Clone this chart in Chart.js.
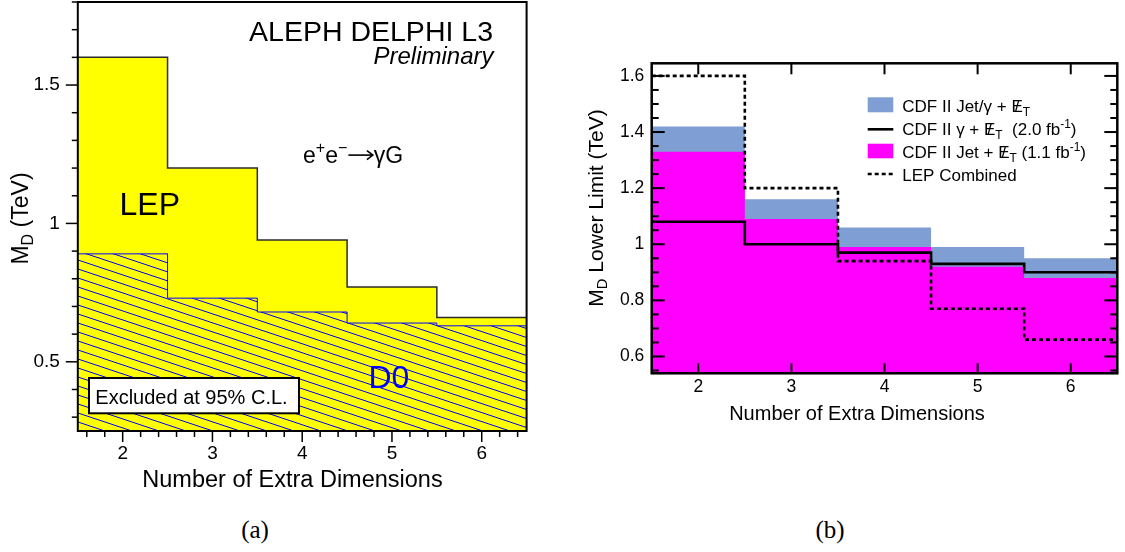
<!DOCTYPE html>
<html>
<head>
<meta charset="utf-8">
<script src="https://cdn.jsdelivr.net/npm/chart.js@4.4.0/dist/chart.umd.min.js"></script>
<style>
  body { margin: 0; background: #fff; width: 1125px; height: 552px; position: relative; overflow: hidden; }
  .panel { position: absolute; top: 0; }
  .cap { position: absolute; font-family: "Liberation Serif", serif; font-size: 25px; transform: translate(-50%, -50%); }
</style>
</head>
<body>
<canvas id="lep" class="panel" style="left:0" width="560" height="500"></canvas>
<canvas id="cdf" class="panel" style="left:560px" width="565" height="500"></canvas>
<div class="cap" style="left:255px;top:530px">(a)</div>
<div class="cap" style="left:830px;top:530px">(b)</div>
<script>
// number of extra dimensions (bin centres)
const dims = [2, 3, 4, 5, 6];
const xTicks = [2, 3, 4, 5, 6];

// (a) LEP and D0 limits on M_D (TeV)
const lepLimit = [1.6, 1.2, 0.94, 0.77, 0.66];
const d0Limit = [0.89, 0.73, 0.68, 0.64, 0.63];
const yTicksA = [0.5, 1, 1.5];

// (b) CDF limits vs LEP
const cdfCombined = [1.42, 1.16, 1.06, 0.99, 0.95];
const cdfJet = [1.33, 1.09, 0.99, 0.92, 0.88];
const cdfPhoton = [1.08, 1.0, 0.97, 0.93, 0.90];
const lepCombined = [1.6, 1.2, 0.94, 0.77, 0.66];
const yTicksB = [0.6, 0.8, 1, 1.2, 1.4, 1.6];

const FONT = '"Liberation Sans", Arial, Helvetica, sans-serif';

// histogram bins -> a point on each left edge, plus the last right edge
function steps(vals) {
  const pts = dims.map((d, i) => ({ x: d - 0.5, y: vals[i] }));
  pts.push({ x: dims[dims.length - 1] + 0.5, y: vals[vals.length - 1] });
  return pts;
}

// yellow with thin blue diagonal hatching
function hatch() {
  const c = document.createElement('canvas');
  c.width = 27; c.height = 9;
  const g = c.getContext('2d');
  g.fillStyle = '#ffff00';
  g.fillRect(0, 0, 27, 9);
  g.strokeStyle = '#0000ff';
  g.lineWidth = 1;
  [-9, 0, 9].forEach(o => { g.beginPath(); g.moveTo(0, o); g.lineTo(27, o + 9); g.stroke(); });
  return g.createPattern(c, 'repeat');
}

function seg(ctx, x1, y1, x2, y2) {
  ctx.beginPath(); ctx.moveTo(x1, y1); ctx.lineTo(x2, y2); ctx.stroke();
}

// text with sup / sub / slashed letters / arrow, drawn left to right
function rich(ctx, x, y, parts, size, draw = true) {
  let cx = x;
  ctx.textAlign = 'left';
  for (const [t, m] of parts) {
    if (m === 'arrow') {
      const w = size * 1.15, ay = y - size * 0.33;
      if (draw) {
        ctx.save();
        ctx.strokeStyle = ctx.fillStyle;
        ctx.lineWidth = size * 0.07;
        seg(ctx, cx + 1, ay, cx + w - 1.5, ay);
        ctx.beginPath();
        ctx.moveTo(cx + w - size * 0.3, ay - size * 0.2);
        ctx.lineTo(cx + w - 1, ay);
        ctx.lineTo(cx + w - size * 0.3, ay + size * 0.2);
        ctx.stroke();
        ctx.restore();
      }
      cx += w;
      continue;
    }
    const small = m === 'sup' || m === 'sub';
    ctx.font = (small ? size * 0.7 : size) + 'px ' + FONT;
    const dy = m === 'sup' ? -size * 0.42 : m === 'sub' ? size * 0.22 : 0;
    const w = ctx.measureText(t).width;
    if (draw) {
      ctx.fillText(t, cx, y + dy);
      if (m === 'slash') {
        const sw = ctx.measureText('/').width;
        ctx.fillText('/', cx + (w - sw) / 2, y);
      }
    }
    cx += w;
  }
  return cx - x;
}

function vtitle(ctx, bx, cy, parts, size) {
  ctx.save();
  ctx.translate(bx, cy);
  ctx.rotate(-Math.PI / 2);
  const w = rich(ctx, 0, 0, parts, size, false);
  rich(ctx, -w / 2, 0, parts, size);
  ctx.restore();
}

function axis(min, max, ticks, size, pad, fit) {
  return {
    type: 'linear', min, max,
    afterBuildTicks: a => { a.ticks = ticks.map(v => ({ value: v })); },
    afterFit: fit,
    grid: { display: false, drawTicks: false },
    border: { display: false },
    ticks: { autoSkip: false, maxRotation: 0, padding: pad, color: '#000',
      font: { family: FONT, size }, callback: v => String(v) }
  };
}

const lepDecor = {
  id: 'lepDecor',
  afterDraw(chart) {
    const { ctx, chartArea: a, scales: { x, y } } = chart;
    ctx.save();
    ctx.strokeStyle = '#000';
    ctx.lineWidth = 1.5;
    for (let i = 3; i <= 18; i++) {
      const v = i / 10, py = y.getPixelForValue(v);
      const len = yTicksA.some(t => Math.abs(t - v) < 1e-6) ? 12 : 6;
      seg(ctx, a.left - len, py, a.left, py);
    }
    for (let i = 8; i <= 32; i++) {
      const v = i / 5, px = x.getPixelForValue(v);
      const len = Number.isInteger(v) ? 11 : 6;
      seg(ctx, px, a.bottom, px, a.bottom + len);
    }
    ctx.lineWidth = 2;
    ctx.strokeRect(a.left, a.top, a.right - a.left, a.bottom - a.top);

    ctx.fillStyle = '#000';
    ctx.textBaseline = 'alphabetic';
    ctx.textAlign = 'right';
    ctx.font = '28.5px ' + FONT;
    ctx.fillText('ALEPH DELPHI L3', 493, 40.7);
    ctx.font = 'italic 24px ' + FONT;
    ctx.fillText('Preliminary', 493.5, 63.5);

    rich(ctx, 303, 162.7, [['e', ''], ['+', 'sup'], ['e', ''], ['\u2212', 'sup'], ['', 'arrow'], ['\u03b3G', '']], 23);

    ctx.font = '32px ' + FONT;
    ctx.fillText('LEP', 119.5, 215);
    ctx.fillStyle = '#0000ff';
    ctx.fillText('D0', 368.5, 387.7);

    ctx.fillStyle = '#fff';
    ctx.fillRect(89, 378, 210, 35.3);
    ctx.strokeRect(89, 378, 210, 35.3);
    ctx.fillStyle = '#000';
    ctx.font = '20px ' + FONT;
    ctx.fillText('Excluded at 95% C.L.', 95.3, 404);

    ctx.textAlign = 'center';
    ctx.font = '23.5px ' + FONT;
    ctx.fillText('Number of Extra Dimensions', 292.5, 487.3);
    vtitle(ctx, 28.3, 218.5, [['M', ''], ['D', 'sub'], [' (TeV)', '']], 23);
    ctx.restore();
  }
};

const cdfDecor = {
  id: 'cdfDecor',
  afterDraw(chart) {
    const { ctx, chartArea: a, scales: { x, y } } = chart;
    const ds = chart.data.datasets;
    ctx.save();
    ctx.strokeStyle = '#000';
    ctx.lineWidth = 2;
    for (let i = 11; i <= 32; i++) {
      const v = i / 20, py = y.getPixelForValue(v);
      const len = yTicksB.some(t => Math.abs(t - v) < 1e-6) ? 13 : 7;
      seg(ctx, a.left, py, a.left + len, py);
      seg(ctx, a.right - len, py, a.right, py);
    }
    xTicks.forEach(v => {
      const px = x.getPixelForValue(v);
      seg(ctx, px, a.bottom, px, a.bottom - 10);
      seg(ctx, px, a.top, px, a.top + 11);
    });
    ctx.lineWidth = 2.5;
    ctx.strokeRect(a.left, a.top, a.right - a.left, a.bottom - a.top);

    // legend
    const sx = 307.7, sw = 25.6, tx = 342.3;
    ctx.fillStyle = ds[3].backgroundColor;
    ctx.fillRect(sx, 97.3, sw, 15);
    ctx.fillStyle = ds[2].backgroundColor;
    ctx.fillRect(sx, 143.7, sw, 14.6);
    ctx.lineWidth = ds[1].borderWidth;
    seg(ctx, sx, 129.3, sx + sw, 129.3);
    ctx.setLineDash(ds[0].borderDash);
    seg(ctx, sx, 174, sx + sw, 174);
    ctx.setLineDash([]);

    ctx.fillStyle = '#000';
    ctx.textBaseline = 'alphabetic';
    const fs = 17;
    rich(ctx, tx, 111.8, [['CDF II Jet/\u03b3 + ', ''], ['E', 'slash'], ['T', 'sub']], fs);
    rich(ctx, tx, 135, [['CDF II \u03b3 + ', ''], ['E', 'slash'], ['T', 'sub'], ['  (2.0 fb', ''], ['-1', 'sup'], [')', '']], fs);
    rich(ctx, tx, 158, [['CDF II Jet + ', ''], ['E', 'slash'], ['T', 'sub'], [' (1.1 fb', ''], ['-1', 'sup'], [')', '']], fs);
    rich(ctx, tx, 180.8, [['LEP Combined', '']], fs);

    ctx.textAlign = 'center';
    ctx.font = '20px ' + FONT;
    ctx.fillText('Number of Extra Dimensions', 297, 420);
    vtitle(ctx, 42.7, 208, [['M', ''], ['D', 'sub'], [' Lower Limit (TeV)', '']], 21);
    ctx.restore();
  }
};

const common = {
  responsive: false,
  animation: false,
  events: [],
  plugins: { legend: { display: false }, tooltip: { enabled: false } }
};
const lineDefaults = { stepped: 'before', pointRadius: 0, borderCapStyle: 'butt', borderJoinStyle: 'miter' };

new Chart(document.getElementById('lep'), {
  type: 'line',
  data: {
    datasets: [
      { ...lineDefaults, label: 'D0', data: steps(d0Limit), fill: 'start',
        backgroundColor: hatch(), borderColor: '#0000ff', borderWidth: 1, order: 1 },
      { ...lineDefaults, label: 'LEP', data: steps(lepLimit), fill: 'start',
        backgroundColor: '#ffff00', borderColor: '#2b2b2b', borderWidth: 1.5, order: 2 }
    ]
  },
  options: {
    ...common,
    layout: { padding: { left: 0, top: 2, right: 33.4, bottom: 0 } },
    scales: {
      x: axis(1.5, 6.5, xTicks, 19, 11.3, a => { a.height = 69; a.paddingLeft = 0; a.paddingRight = 0; }),
      y: axis(0.25, 1.8, yTicksA, 19, 18, a => { a.width = 77.8; a.paddingTop = 0; a.paddingBottom = 0; })
    }
  },
  plugins: [lepDecor]
});

new Chart(document.getElementById('cdf'), {
  type: 'line',
  data: {
    datasets: [
      { ...lineDefaults, label: 'LEP Combined', data: steps(lepCombined), fill: false,
        borderColor: '#000', borderWidth: 2.6, borderDash: [4, 3], order: 1 },
      { ...lineDefaults, label: 'CDF II \u03b3 + MET (2.0 fb-1)', data: steps(cdfPhoton), fill: false,
        borderColor: '#000', borderWidth: 2.6, order: 2 },
      { ...lineDefaults, label: 'CDF II Jet + MET (1.1 fb-1)', data: steps(cdfJet), fill: 'start',
        backgroundColor: '#ff00ff', borderColor: 'rgba(0,0,0,0)', borderWidth: 0, order: 3 },
      { ...lineDefaults, label: 'CDF II Jet/\u03b3 + MET', data: steps(cdfCombined), fill: 'start',
        backgroundColor: '#7f9ed3', borderColor: 'rgba(0,0,0,0)', borderWidth: 0, order: 4 }
    ]
  },
  options: {
    ...common,
    layout: { padding: { left: 0, top: 63.3, right: 7.7, bottom: 0 } },
    scales: {
      x: axis(1.5, 6.5, xTicks, 17.5, 3.5, a => { a.height = 126.7; a.paddingLeft = 0; a.paddingRight = 0; }),
      y: axis(0.54, 1.645, yTicksB, 17.5, 7.4, a => { a.width = 91.7; a.paddingTop = 0; a.paddingBottom = 0; })
    }
  },
  plugins: [cdfDecor]
});
</script>
</body>
</html>
